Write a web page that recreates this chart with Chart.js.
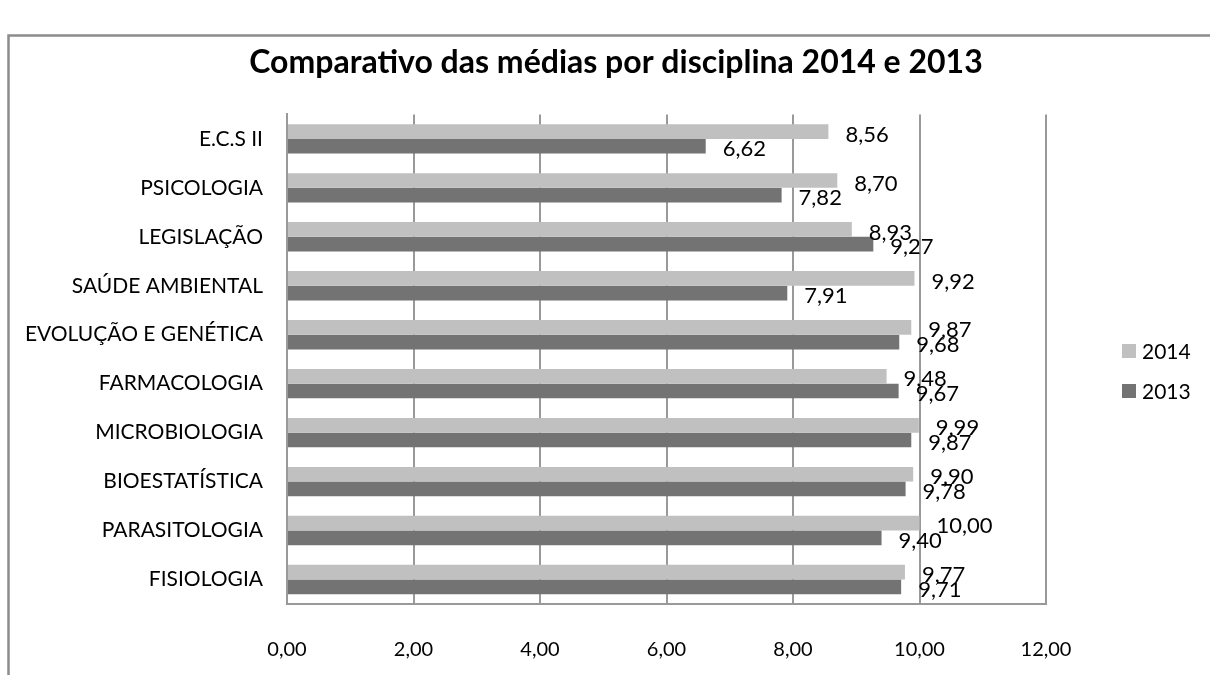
<!DOCTYPE html>
<html lang="pt">
<head>
<meta charset="utf-8">
<title>Comparativo das médias por disciplina 2014 e 2013</title>
<script src="https://cdn.jsdelivr.net/npm/chart.js@4.4.1/dist/chart.umd.min.js"></script>
<style>
    html, body { margin: 0; padding: 0; background: #fff; }
    #wrap { width: 1210px; height: 675px; }
</style>
</head>
<body>
<div id="wrap"><canvas id="medias-chart" width="1210" height="675"></canvas></div>
<script>
const disciplinas = [
    'E.C.S II', 'PSICOLOGIA', 'LEGISLAÇÃO', 'SAÚDE AMBIENTAL', 'EVOLUÇÃO E GENÉTICA',
    'FARMACOLOGIA', 'MICROBIOLOGIA', 'BIOESTATÍSTICA', 'PARASITOLOGIA', 'FISIOLOGIA'
];
const medias2014 = [8.56, 8.70, 8.93, 9.92, 9.87, 9.48, 9.99, 9.90, 10.00, 9.77];
const medias2013 = [6.62, 7.82, 9.27, 7.91, 9.68, 9.67, 9.87, 9.78, 9.40, 9.71];
const xTicks = [0, 2, 4, 6, 8, 10, 12];

const FONT = 'Lato, "Open Sans", sans-serif';
const GRID = '#999999';

const formatNum = v => v.toFixed(2).replace('.', ',');

// outer frame of the chart object
const framePlugin = {
    id: 'frame',
    beforeDraw(chart) {
        const ctx = chart.ctx;
        ctx.save();
        ctx.strokeStyle = '#8c8c8c';
        ctx.lineWidth = 2.5;
        ctx.strokeRect(8.5, 35.5, 1300, 700);
        ctx.restore();
    }
};

// value labels placed just past the end of each bar
const valueLabels = {
    id: 'valueLabels',
    afterDatasetsDraw(chart) {
        const ctx = chart.ctx;
        ctx.save();
        ctx.font = '22px ' + FONT;
        ctx.fillStyle = '#000';
        ctx.textAlign = 'left';
        ctx.textBaseline = 'middle';
        chart.data.datasets.forEach((ds, i) => {
            chart.getDatasetMeta(i).data.forEach((bar, j) => {
                ctx.fillText(formatNum(ds.data[j]), bar.x + 17, bar.y + 3);
            });
        });
        ctx.restore();
    }
};

// legend at the right, built from the datasets
const sideLegend = {
    id: 'sideLegend',
    afterDraw(chart) {
        const ctx = chart.ctx;
        ctx.save();
        ctx.font = '21px ' + FONT;
        ctx.textBaseline = 'middle';
        chart.data.datasets.forEach((ds, i) => {
            const y = 351 + i * 40;
            ctx.fillStyle = ds.backgroundColor;
            ctx.fillRect(1122, y - 7, 14, 14);
            ctx.fillStyle = '#000';
            ctx.fillText(ds.label, 1142, y + 1);
        });
        ctx.restore();
    }
};

new Chart(document.getElementById('medias-chart').getContext('2d'), {
    type: 'bar',
    data: {
        labels: disciplinas,
        datasets: [
            { label: '2014', data: medias2014, backgroundColor: '#c0c0c0', categoryPercentage: 0.6, barPercentage: 1 },
            { label: '2013', data: medias2013, backgroundColor: '#737373', categoryPercentage: 0.6, barPercentage: 1 },
        ],
    },
    options: {
        indexAxis: 'y',
        responsive: false,
        animation: false,
        layout: { padding: { left: 22, right: 0, top: 35, bottom: 0 } },
        plugins: {
            legend: { display: false },
            tooltip: { enabled: false },
            title: {
                display: true,
                text: 'Comparativo das médias por disciplina 2014 e 2013',
                color: '#000',
                font: { family: FONT, size: 32, weight: 'bold' },
                padding: { top: 8, bottom: 33 },
            },
        },
        scales: {
            x: {
                min: 0,
                max: 12,
                afterBuildTicks: axis => { axis.ticks = xTicks.map(v => ({ value: v })); },
                afterFit: axis => { axis.height = 71; },
                ticks: {
                    callback: value => formatNum(value),
                    color: '#000',
                    font: { family: FONT, size: 20 },
                    padding: 34,
                    maxRotation: 0,
                },
                grid: { color: GRID, lineWidth: 2, drawTicks: false },
                border: { color: GRID, width: 2 },
            },
            y: {
                afterFit: axis => { axis.width = 265; },
                ticks: {
                    color: '#000',
                    font: { family: FONT, size: 21 },
                    padding: 24,
                },
                grid: { display: false, drawTicks: false },
                border: { color: GRID, width: 2 },
            },
            // empty axis on the right that leaves room for the legend
            legendSpace: {
                type: 'category',
                position: 'right',
                axis: 'y',
                labels: disciplinas,
                afterFit: axis => { axis.width = 164; },
                ticks: { display: false },
                grid: { display: false, drawTicks: false },
                border: { display: false },
            },
        },
    },
    plugins: [framePlugin, valueLabels, sideLegend],
});
</script>
</body>
</html>
